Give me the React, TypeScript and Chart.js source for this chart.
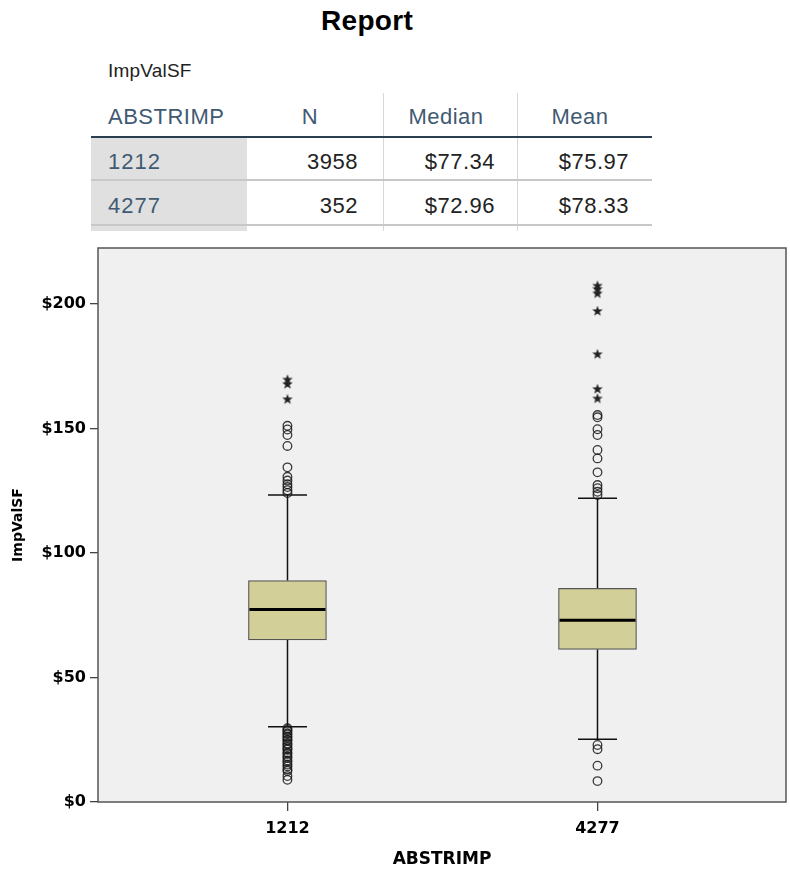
import React, { useEffect, useRef } from "react";
import { Chart, registerables } from "chart.js";

Chart.register(...registerables);

// Groups of ABSTRIMP
const categories = ["1212", "4277"];

// Summary table
const tableN = [3958, 352];
const tableMedian = ["$77.34", "$72.96"];
const tableMean = ["$75.97", "$78.33"];

// Box statistics for ImpValSF
const q1 = [65.1, 61.3];
const median = [77.34, 72.96];
const q3 = [88.9, 85.8];
const whiskerLow = [30.2, 25.2];
const whiskerHigh = [123.3, 122.0];

// Outliers (circles) and extreme values (stars)
const outliers1212 = [
  151.1, 149.6, 147.4, 143.0, 134.4, 130.6, 129.1, 127.6, 126.5, 125.2, 124.1,
  29.6, 28.9, 28.5, 27.6, 27.2, 26.3, 25.9, 25.0, 24.6, 23.5, 23.1, 22.2, 21.5,
  21.0, 19.9, 19.4, 18.4, 17.8, 16.7, 16.1, 15.0, 14.3, 13.1, 12.5, 10.4, 8.9,
];
const extremes1212 = [169.7, 167.9, 161.8];
const outliers4277 = [
  155.4, 154.5, 149.7, 147.4, 141.4, 138.0, 132.4, 127.3, 126.0, 124.6, 123.3,
  22.9, 21.2, 14.6, 8.4,
];
const extremes4277 = [207.4, 206.1, 204.3, 197.2, 179.9, 165.9, 162.1];

const yTicks = [0, 50, 100, 150, 200];
const yMax = 222.5;

const BOX_FILL = "#d3cf98";
const BOX_EDGE = "#555555";
const BOX_PX = 78;

const CANVAS_W = 793;

function makeStar(): HTMLCanvasElement {
  const c = document.createElement("canvas");
  c.width = 12;
  c.height = 12;
  const g = c.getContext("2d")!;
  const cx = 6, cy = 6.3, ro = 5.5, ri = 2.3;
  g.beginPath();
  for (let i = 0; i < 10; i++) {
    const r = i % 2 === 0 ? ro : ri;
    const a = -Math.PI / 2 + (i * Math.PI) / 5;
    const px = cx + r * Math.cos(a);
    const py = cy + r * Math.sin(a);
    if (i === 0) g.moveTo(px, py);
    else g.lineTo(px, py);
  }
  g.closePath();
  g.fillStyle = "#222";
  g.fill();
  return c;
}

const boxDecor = {
  id: "boxDecor",
  beforeDraw(chart: any) {
    const { ctx, chartArea: a } = chart;
    ctx.save();
    ctx.fillStyle = "#f0f0f0";
    ctx.fillRect(a.left, a.top, a.right - a.left, a.bottom - a.top);
    ctx.restore();
  },
  beforeDatasetsDraw(chart: any) {
    const { ctx } = chart;
    const xs = chart.scales.x;
    const ys = chart.scales.y;
    ctx.save();
    ctx.strokeStyle = "#111";
    ctx.lineWidth = 1.5;
    categories.forEach((_, i) => {
      const x = Math.round(xs.getPixelForValue(i + 1)) + 0.5;
      const capHalf = BOX_PX / 4;
      const segs: [number, number][] = [
        [q3[i], whiskerHigh[i]],
        [q1[i], whiskerLow[i]],
      ];
      segs.forEach(([from, to]) => {
        ctx.beginPath();
        ctx.moveTo(x, ys.getPixelForValue(from));
        ctx.lineTo(x, ys.getPixelForValue(to));
        ctx.stroke();
        const yc = ys.getPixelForValue(to);
        ctx.beginPath();
        ctx.moveTo(x - capHalf, yc);
        ctx.lineTo(x + capHalf, yc);
        ctx.stroke();
      });
    });
    ctx.restore();
  },
  afterDatasetsDraw(chart: any) {
    const { ctx } = chart;
    const xs = chart.scales.x;
    const ys = chart.scales.y;
    ctx.save();
    ctx.strokeStyle = "#000";
    ctx.lineWidth = 3;
    categories.forEach((_, i) => {
      const x = xs.getPixelForValue(i + 1);
      const y = ys.getPixelForValue(median[i]);
      ctx.beginPath();
      ctx.moveTo(x - BOX_PX / 2 + 1, y);
      ctx.lineTo(x + BOX_PX / 2 - 1, y);
      ctx.stroke();
    });
    ctx.restore();
  },
  afterDraw(chart: any) {
    const { ctx, chartArea: a } = chart;
    ctx.save();
    ctx.strokeStyle = "#555";
    ctx.lineWidth = 1.5;
    ctx.strokeRect(a.left, a.top, a.right - a.left, a.bottom - a.top);
    ctx.restore();
  },
};

function BoxChart() {
  const ref = useRef<HTMLCanvasElement | null>(null);
  useEffect(() => {
    if (!ref.current) return;
    const star = makeStar();
    const circlePts = [outliers1212, outliers4277].flatMap((arr, i) =>
      arr.map((v) => ({ x: i + 1, y: v }))
    );
    const starPts = [extremes1212, extremes4277].flatMap((arr, i) =>
      arr.map((v) => ({ x: i + 1, y: v }))
    );
    const chart = new Chart(ref.current, {
      type: "bar",
      data: {
        datasets: [
          {
            type: "bar",
            data: categories.map((_, i) => ({ x: i + 1, y: [q1[i], q3[i]] })) as any,
            backgroundColor: BOX_FILL,
            borderColor: BOX_EDGE,
            borderWidth: 1.2,
            borderSkipped: false,
            barThickness: BOX_PX,
          } as any,
          {
            type: "scatter",
            data: circlePts,
            pointStyle: "circle",
            pointRadius: 4.3,
            borderColor: "rgba(25,25,25,0.85)",
            borderWidth: 1.3,
            backgroundColor: "rgba(0,0,0,0)",
          } as any,
          {
            type: "scatter",
            data: starPts,
            pointStyle: star,
            pointRadius: 6,
          } as any,
        ],
      },
      options: {
        animation: false,
        responsive: false,
        devicePixelRatio: 1,
        events: [],
        layout: { padding: { top: 8, right: 1, left: 0, bottom: 0 } },
        plugins: {
          legend: { display: false },
          tooltip: { enabled: false },
        },
        scales: {
          x: {
            type: "linear",
            offset: false,
            min: 0.389,
            max: 2.608,
            afterBuildTicks: (s: any) => {
              s.ticks = categories.map((_, i) => ({ value: i + 1 }));
            },
            afterFit: (s: any) => {
              s.height = 69;
              s.paddingLeft = 0;
              s.paddingRight = 0;
            },
            ticks: {
              callback: (v: any) => categories[Number(v) - 1] ?? "",
              color: "#000",
              font: { family: "DejaVu Sans", size: 16, weight: "bold" },
              padding: 8,
              maxRotation: 0,
            },
            grid: {
              offset: false,
              drawOnChartArea: false,
              drawTicks: true,
              tickLength: 9,
              color: "#444",
              lineWidth: 1.3,
            },
            border: { display: false },
            title: {
              display: true,
              text: "ABSTRIMP",
              color: "#000",
              font: { family: "DejaVu Sans", size: 17, weight: "bold" },
              padding: { top: 0, bottom: 1 },
            },
          },
          y: {
            type: "linear",
            min: 0,
            max: yMax,
            afterBuildTicks: (s: any) => {
              s.ticks = yTicks.map((v) => ({ value: v }));
            },
            afterFit: (s: any) => {
              s.width = 98;
              s.paddingTop = 0;
              s.paddingBottom = 0;
            },
            ticks: {
              callback: (v: any) => "$" + v,
              color: "#000",
              font: { family: "DejaVu Sans", size: 16, weight: "bold" },
              padding: 4,
            },
            grid: {
              drawOnChartArea: false,
              drawTicks: true,
              tickLength: 8,
              color: "#444",
              lineWidth: 1.3,
            },
            border: { display: false },
            title: {
              display: true,
              text: "ImpValSF",
              color: "#000",
              font: { family: "DejaVu Sans", size: 14, weight: "bold" },
              padding: { top: 10, bottom: 0 },
            },
          },
        },
      },
      plugins: [boxDecor],
    });
    return () => chart.destroy();
  }, []);
  return (
    <canvas
      ref={ref}
      width={CANVAS_W}
      height={631}
      style={{ position: "absolute", left: 0, top: 240, width: CANVAS_W, height: 631, display: "block" }}
    />
  );
}

type TextProps = {
  x: number;
  y: number;
  text: string;
  align?: "left" | "right" | "center";
  size?: number;
  weight?: string;
  color?: string;
  spacing?: number;
};

function Txt({ x, y, text, align = "left", size = 22, weight = "normal", color = "#222", spacing = 0.5 }: TextProps) {
  const base: React.CSSProperties = {
    position: "absolute",
    top: y - size / 2,
    height: size,
    lineHeight: `${size}px`,
    fontSize: size,
    fontWeight: weight as any,
    color,
    letterSpacing: spacing,
    whiteSpace: "nowrap",
    fontFamily: '"Liberation Sans", Arial, sans-serif',
  };
  if (align === "left") return <div style={{ ...base, left: x }}>{text}</div>;
  if (align === "right") return <div style={{ ...base, right: 790 - x, textAlign: "right" }}>{text}</div>;
  return <div style={{ ...base, left: x - 200, width: 400, textAlign: "center" }}>{text}</div>;
}

function Rect({ x, y, w, h, c }: { x: number; y: number; w: number; h: number; c: string }) {
  return <div style={{ position: "absolute", left: x, top: y, width: w, height: h, background: c }} />;
}

function ReportTable() {
  const headColor = "#3f5a72";
  const rowY = [161.5, 206];
  return (
    <>
      <Txt x={367} y={21} text="Report" align="center" size={28} weight="bold" color="#000" spacing={0.3} />
      <Txt x={108} y={70} text="ImpValSF" size={19} color="#222" spacing={0.2} />
      <Rect x={91} y={138} w={156} h={93} c="#e0e0e0" />
      <Rect x={383} y={93} w={1} h={138} c="#d8d8d8" />
      <Rect x={517} y={93} w={1} h={138} c="#d8d8d8" />
      <Rect x={91} y={136} w={561} h={2} c="#2c3f50" />
      <Rect x={91} y={179} w={561} h={2} c="#c8c8c8" />
      <Rect x={91} y={224} w={561} h={2} c="#c8c8c8" />
      <Txt x={108} y={116.5} text="ABSTRIMP" color={headColor} />
      <Txt x={310} y={116.5} text="N" align="center" color={headColor} />
      <Txt x={446} y={116.5} text="Median" align="center" color={headColor} />
      <Txt x={580} y={116.5} text="Mean" align="center" color={headColor} />
      {categories.map((c, i) => (
        <React.Fragment key={c}>
          <Txt x={108} y={rowY[i]} text={c} color={headColor} spacing={1} />
          <Txt x={358} y={rowY[i]} text={String(tableN[i])} align="right" />
          <Txt x={495} y={rowY[i]} text={tableMedian[i]} align="right" />
          <Txt x={629} y={rowY[i]} text={tableMean[i]} align="right" />
        </React.Fragment>
      ))}
    </>
  );
}

export default function App() {
  return (
    <div style={{ position: "absolute", left: 0, top: 0, width: 790, height: 871, background: "#fff", overflow: "hidden" }}>
      <ReportTable />
      <BoxChart />
    </div>
  );
}
